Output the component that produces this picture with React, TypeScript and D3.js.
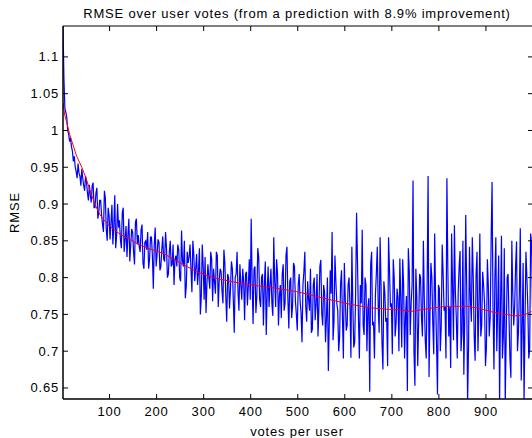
import React from "react";
import * as d3 from "d3";

// blue series: RMSE at votes 1, 5, 9, ... (every 4 votes)
const blueRmseA = [
  1.142, 1.030, 1.018, 0.995, 0.990, 0.972, 0.965, 0.944, 0.955, 0.938,
  0.948, 0.925, 0.938, 0.915, 0.926, 0.902, 0.929, 0.895, 0.922, 0.888,
  0.905, 0.872, 0.918, 0.865, 0.895, 0.852, 0.899, 0.870, 0.840, 0.900,
  0.878, 0.840, 0.895, 0.852, 0.828, 0.880, 0.845, 0.862, 0.818, 0.880,
  0.858, 0.835, 0.872, 0.812, 0.850, 0.862, 0.825, 0.855, 0.785, 0.868,
  0.832, 0.848, 0.815, 0.856, 0.822, 0.840, 0.805, 0.850, 0.818, 0.790,
  0.830, 0.845, 0.800, 0.864, 0.815, 0.772, 0.835, 0.828, 0.812, 0.850,
  0.795, 0.832, 0.808, 0.750, 0.845, 0.770, 0.752, 0.818, 0.785, 0.825,
  0.812, 0.778, 0.830, 0.795, 0.808, 0.765, 0.820, 0.740, 0.800, 0.785,
  0.812, 0.725, 0.805, 0.780, 0.818, 0.770, 0.795, 0.805, 0.762, 0.825,
  0.880, 0.737, 0.815, 0.775, 0.828, 0.760, 0.805, 0.790, 0.722, 0.815,
  0.790, 0.765, 0.855, 0.760, 0.805, 0.775, 0.745, 0.818, 0.765, 0.842,
  0.731, 0.800, 0.762, 0.815, 0.750, 0.790, 0.768, 0.712, 0.808, 0.760,
  0.795, 0.755, 0.725, 0.790, 0.742, 0.805, 0.760, 0.824, 0.735, 0.780,
  0.745, 0.673, 0.810, 0.862, 0.740, 0.795, 0.755, 0.720, 0.810, 0.690,
  0.772, 0.735, 0.800, 0.691, 0.765, 0.712, 0.888, 0.745, 0.790, 0.865,
  0.722, 0.790, 0.758, 0.645, 0.835, 0.740, 0.775, 0.842, 0.725, 0.790,
  0.675, 0.780, 0.745, 0.855, 0.760, 0.696, 0.800, 0.738, 0.772, 0.826,
  0.705, 0.790, 0.748, 0.646, 0.810, 0.765, 0.932, 0.653, 0.775, 0.740,
  0.800, 0.720, 0.770, 0.690, 0.938, 0.748, 0.800, 0.696, 0.770, 0.641,
  0.785, 0.735, 0.805, 0.760, 0.935, 0.720, 0.677, 0.790, 0.871, 0.745,
  0.780, 0.836, 0.725, 0.668, 0.885, 0.630, 0.842, 0.740, 0.800, 0.687,
  0.835, 0.755, 0.720, 0.808, 0.765, 0.705, 0.790, 0.745, 0.930, 0.675,
  0.855, 0.760, 0.630, 0.857, 0.720, 0.630, 0.800, 0.745, 0.664, 0.780,
  0.760, 0.849, 0.725, 0.867, 0.731, 0.630, 0.835, 0.760, 0.704, 0.846,
];

// blue series: RMSE at votes 3, 7, 11, ... (in between the ones above)
const blueRmseB = [
  1.070, 1.025, 1.000, 0.985, 0.978, 0.958, 0.950, 0.935, 0.942, 0.925,
  0.935, 0.918, 0.930, 0.905, 0.913, 0.925, 0.895, 0.915, 0.880, 0.905,
  0.885, 0.862, 0.908, 0.850, 0.884, 0.875, 0.845, 0.912, 0.858, 0.868,
  0.852, 0.888, 0.835, 0.870, 0.858, 0.822, 0.866, 0.835, 0.875, 0.845,
  0.842, 0.865, 0.820, 0.848, 0.838, 0.812, 0.855, 0.830, 0.845, 0.815,
  0.852, 0.810, 0.838, 0.825, 0.862, 0.800, 0.835, 0.815, 0.845, 0.825,
  0.815, 0.838, 0.795, 0.822, 0.850, 0.788, 0.820, 0.845, 0.780, 0.832,
  0.812, 0.790, 0.840, 0.775, 0.815, 0.828, 0.792, 0.800, 0.835, 0.768,
  0.795, 0.835, 0.760, 0.812, 0.782, 0.838, 0.775, 0.805, 0.758, 0.822,
  0.770, 0.800, 0.835, 0.755, 0.790, 0.812, 0.742, 0.808, 0.790, 0.770,
  0.795, 0.812, 0.752, 0.840, 0.770, 0.800, 0.735, 0.822, 0.778, 0.760,
  0.812, 0.748, 0.795, 0.825, 0.735, 0.790, 0.805, 0.755, 0.830, 0.772,
  0.795, 0.745, 0.820, 0.768, 0.728, 0.805, 0.752, 0.790, 0.835, 0.740,
  0.770, 0.812, 0.730, 0.800, 0.765, 0.720, 0.815, 0.752, 0.790, 0.712,
  0.800, 0.740, 0.778, 0.715, 0.830, 0.765, 0.700, 0.792, 0.745, 0.820,
  0.728, 0.790, 0.760, 0.842, 0.705, 0.778, 0.820, 0.690, 0.765, 0.735,
  0.800, 0.700, 0.772, 0.818, 0.735, 0.690, 0.805, 0.760, 0.855, 0.712,
  0.795, 0.740, 0.680, 0.810, 0.765, 0.825, 0.720, 0.785, 0.700, 0.770,
  0.825, 0.690, 0.775, 0.840, 0.722, 0.790, 0.700, 0.812, 0.680, 0.805,
  0.745, 0.850, 0.715, 0.790, 0.665, 0.820, 0.738, 0.860, 0.710, 0.790,
  0.700, 0.845, 0.755, 0.690, 0.812, 0.760, 0.860, 0.715, 0.780, 0.690,
  0.815, 0.700, 0.850, 0.748, 0.790, 0.705, 0.770, 0.855, 0.720, 0.805,
  0.700, 0.860, 0.735, 0.790, 0.680, 0.825, 0.720, 0.850, 0.760, 0.800,
  0.700, 0.830, 0.765, 0.690, 0.840, 0.720, 0.805, 0.690, 0.850, 0.735,
  0.815, 0.700, 0.780, 0.660, 0.820, 0.740, 0.800, 0.690, 0.860, 0.760,
];

// red smoothed curve
const redVotes = [
  1, 5, 9, 15, 20, 30, 41, 50, 60, 70, 80, 90, 100, 120, 143, 165, 190, 214,
  250, 285, 320, 356, 390, 426, 460, 497, 530, 568, 610, 653, 690, 716, 740,
  760, 790, 816, 858, 880, 915, 940, 964, 980, 997,
];
const redRmse = [
  1.038, 1.02, 1.011, 0.995, 0.985, 0.965, 0.95, 0.935, 0.915, 0.898, 0.885,
  0.877, 0.87, 0.86, 0.852, 0.844, 0.838, 0.833, 0.82, 0.808, 0.8, 0.795,
  0.791, 0.788, 0.785, 0.781, 0.776, 0.77, 0.764, 0.759, 0.757, 0.756, 0.754,
  0.756, 0.759, 0.761, 0.761, 0.759, 0.753, 0.75, 0.748, 0.749, 0.754,
];

const xTicks = [100, 200, 300, 400, 500, 600, 700, 800, 900];
const yTicks = [0.65, 0.7, 0.75, 0.8, 0.85, 0.9, 0.95, 1, 1.05, 1.1];

const W = 532;
const H = 438;
const font = "'Liberation Sans', Arial, Helvetica, sans-serif";

export default function App() {
  const left = 63, right = 533, top = 26, bottom = 399;
  const x = d3.scaleLinear().domain([1, 1000]).range([left, right]);
  const y = d3.scaleLinear().domain([0.635, 1.142]).range([bottom, top]);

  const bluePts: [number, number][] = [];
  blueRmseA.forEach((v, i) => {
    bluePts.push([1 + i * 4, v]);
    bluePts.push([3 + i * 4, blueRmseB[i]]);
  });
  const redPts: [number, number][] = redVotes.map((v, i) => [v, redRmse[i]]);
  const line = d3
    .line<[number, number]>()
    .x((d) => x(d[0]))
    .y((d) => y(d[1]));

  const tl = 5;
  const fs = 13;
  const ls = 0.8;
  return (
    <svg
      width={W}
      height={H}
      style={{ position: "absolute", left: 0, top: 0, background: "#fff" }}
      fontFamily={font}
    >
      <defs>
        <clipPath id="plotArea">
          <rect x={left} y={top} width={right - left} height={bottom - top} />
        </clipPath>
      </defs>
      <text x={297} y={18} textAnchor="middle" fontSize={fs} letterSpacing={ls} fill="#000">
        RMSE over user votes (from a prediction with 8.9% improvement)
      </text>

      <g clipPath="url(#plotArea)">
        <path d={line(bluePts) || ""} fill="none" stroke="#0000ff" strokeWidth={1.2} />
        <path d={line(redPts) || ""} fill="none" stroke="#ff0000" strokeWidth={1} />
      </g>

      {/* box */}
      <g stroke="#000" strokeWidth={1} fill="none">
        <line x1={left} y1={top} x2={right} y2={top} />
        <line x1={left} y1={top} x2={left} y2={bottom} strokeWidth={1.5} />
        <line x1={left} y1={bottom} x2={right} y2={bottom} strokeWidth={1.5} />
        <line x1={right} y1={top} x2={right} y2={bottom} />
      </g>

      {xTicks.map((t) => (
        <g key={"x" + t}>
          <line x1={x(t)} x2={x(t)} y1={bottom} y2={bottom - tl} stroke="#000" />
          <line x1={x(t)} x2={x(t)} y1={top} y2={top + tl} stroke="#000" />
          <text x={x(t)} y={416} textAnchor="middle" fontSize={fs} letterSpacing={ls} fill="#000">
            {t}
          </text>
        </g>
      ))}
      {yTicks.map((t) => (
        <g key={"y" + t}>
          <line x1={left} x2={left + tl} y1={y(t)} y2={y(t)} stroke="#000" />
          <line x1={right} x2={right - tl} y1={y(t)} y2={y(t)} stroke="#000" />
          <text x={59} y={y(t) + 4.5} textAnchor="end" fontSize={fs} letterSpacing={ls} fill="#000">
            {String(t)}
          </text>
        </g>
      ))}

      <text x={297} y={436} textAnchor="middle" fontSize={fs} letterSpacing={ls} fill="#000">
        votes per user
      </text>
      <text
        transform={`translate(19, ${(top + bottom) / 2}) rotate(-90)`}
        textAnchor="middle"
        fontSize={fs}
        letterSpacing={ls}
        fill="#000"
      >
        RMSE
      </text>
    </svg>
  );
}
